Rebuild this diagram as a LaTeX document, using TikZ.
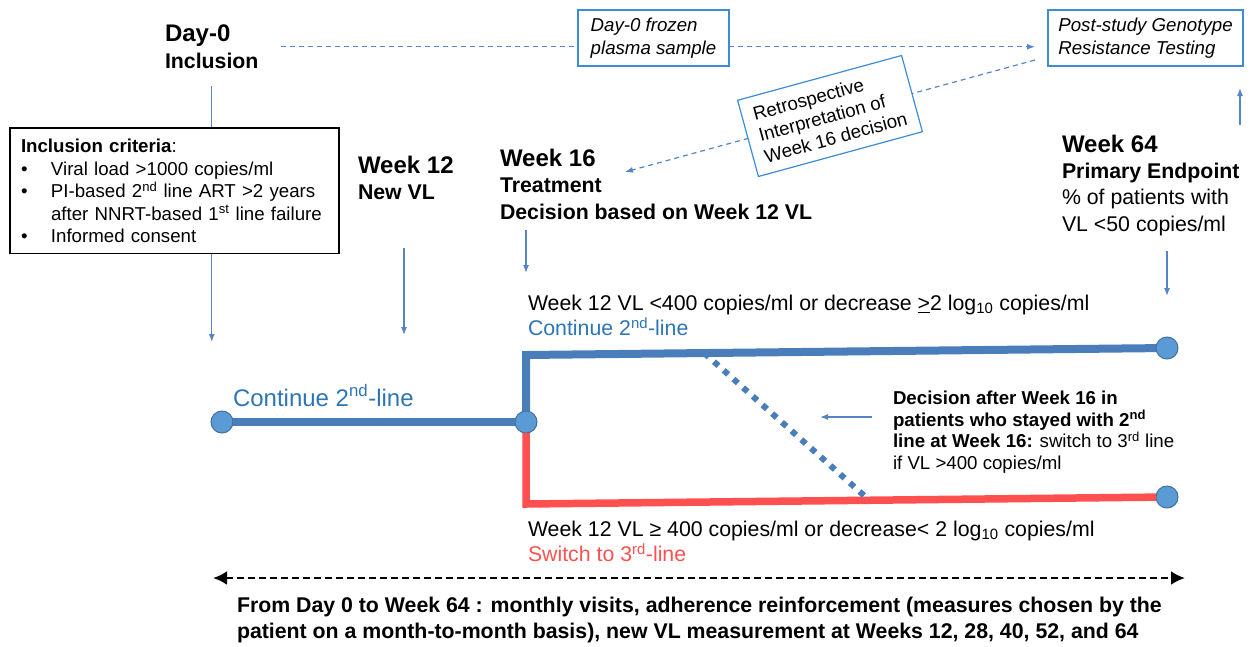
\documentclass[tikz,border=0pt]{standalone}
\usepackage{fontspec}
\setmainfont{Liberation Sans}
\usetikzlibrary{positioning}
\usetikzlibrary{arrows.meta}

\definecolor{trackblue}{HTML}{4A7EBB}
\definecolor{dotfill}{HTML}{5B9BD5}
\definecolor{dotdraw}{HTML}{41719C}
\definecolor{labelblue}{HTML}{2E75B6}
\definecolor{trackred}{HTML}{FF5050}
\definecolor{linkblue}{HTML}{5585C8}
\definecolor{boxblue}{HTML}{3A8DD6}

\tikzset{
  every node/.append style={inner sep=0pt, outer sep=0pt},
  every text node part/.append style={align=left}
}
\tikzstyle{arrow} = [-{Latex[length=8pt,width=6pt]}, draw=linkblue, line width=1.2pt]
\tikzstyle{link} = [arrow, dash pattern=on 5pt off 4pt]
\tikzstyle{heading} = [anchor=north west, font=\bfseries\fontsize{21.3}{26.5}\selectfont]
\tikzstyle{infobox} = [draw=boxblue, solid, line width=1.2pt, fill=white, font=\fontsize{18.67}{22}\selectfont]
\tikzstyle{track} = [line width=8pt, draw=trackblue]
\tikzstyle{tracktext} = [anchor=north west, font=\fontsize{21.3}{25.5}\selectfont]
\newcommand\visit[2]{
  % #1 - Tikz name
  % #2 - Location
  \node [circle, fill=dotfill, draw=dotdraw, line width=1pt, minimum size=22pt] at (#2) (#1) {};
}

\begin{document}
\begin{tikzpicture}[x=1pt, y=-1pt]
  \useasboundingbox (0,0) rectangle (1255,646);

  % time points
  \node [heading] at (165,25) (day0) {{\fontsize{24}{26.5}\selectfont Day-0}\\Inclusion};
  \node [heading] at (358,156) (week12) {{\fontsize{24}{27}\selectfont Week 12}\\New VL};
  \node [heading] at (500,149) (week16) {{\fontsize{24}{26}\selectfont Week 16}\\Treatment\\Decision based on Week 12 VL};
  \node [heading, font=\bfseries\fontsize{21.3}{26.3}\selectfont] at (1062,135) (week64) {
    {\fontsize{24}{26.3}\selectfont Week 64}\\Primary Endpoint\\
    {\mdseries\fontsize{21.3}{26.3}\selectfont \% of patients with}\\
    {\mdseries\fontsize{21.3}{26.3}\selectfont VL <50 copies/ml}};

  \coordinate (d0tip) at (211,342);
  \coordinate (w12tip) at (404,335);
  \coordinate (w16tip) at (526,273);
  \coordinate (w64tip) at (1167,296);
  \draw[arrow] ([yshift=-18pt]day0.south) -- (day0.south |- d0tip);
  \draw[arrow] (w12tip |- week12.south) ++(0,-48pt) -- (w12tip);
  \draw[arrow] ([yshift=-10pt]week16.south west -| w16tip) -- (w16tip);
  \draw[arrow] ([yshift=-15pt]week64.south -| w64tip) -- (w64tip);

  \node [draw=black, line width=1.2pt, fill=white, anchor=north west, text width=307pt,
    minimum height=124pt, inner sep=11pt, font=\fontsize{18.67}{22.5}\selectfont] at (10,128) (criteria) {
    \textbf{Inclusion criteria}:\\
    \makebox[30pt][l]{\textbullet}Viral load >1000 copies/ml\\
    \makebox[30pt][l]{\textbullet}PI-based 2\textsuperscript{nd} line ART >2 years\\
    \hspace*{30pt}after NNRT-based 1\textsuperscript{st} line failure\\
    \makebox[30pt][l]{\textbullet}Informed consent};

  % resistance testing
  \node [infobox, font=\itshape\fontsize{18.67}{23}\selectfont, minimum width=151pt, minimum height=56pt] at (653.5,38) (frozen) {Day-0 frozen\\plasma sample};
  \node [infobox, font=\itshape\fontsize{18.67}{23}\selectfont, minimum width=195pt, minimum height=56pt] at (1145.5,38) (post) {Post-study Genotype\\Resistance Testing};
  \draw[link, -] ([xshift=23pt]day0.east) -- (day0.east -| frozen.west);
  \draw[link, shorten >=13pt] (day0.east -| frozen.east) -- (day0.east -| post.west);
  \draw[link] ([xshift=-13pt,yshift=6pt]post.south west) -- node[sloped, infobox, minimum width=170pt, minimum height=79pt] (retro) {Retrospective\\Interpretation of\\Week 16 decision} (625,172);
  \coordinate (uptail) at (1240,125);
  \draw[arrow, shorten >=22pt] (uptail) -- (uptail |- post.south);

  % treatment tracks
  \visit{start}{222,422}
  \visit{junction}{526,422}
  \visit{endcont}{1167,348}
  \visit{endswitch}{1167,497}
  \coordinate (contcorner) at (526,355);
  \coordinate (switchcorner) at (526,504);
  \draw[track] (start) -- (junction);
  \draw[track] (junction) -- (contcorner) -- coordinate[pos=0.283] (dotfrom) (endcont);
  \draw[track, line width=7.5pt, draw=trackred] (junction) -- (switchcorner) -- coordinate[pos=0.545] (dotto) (endswitch);
  \draw[track, line width=6pt, dash pattern=on 6pt off 7pt] (dotfrom) -- (dotto);

  \node [anchor=base west, font=\fontsize{24}{28}\selectfont, text=labelblue] at (233,406) (contlabel) {Continue 2\textsuperscript{nd}-line};
  \node [tracktext] at (528,295) (contcrit) {Week 12 VL <400 copies/ml or decrease \underline{>}2 log\textsubscript{10} copies/ml\\\textcolor{labelblue}{Continue 2\textsuperscript{nd}-line}};
  \node [tracktext] at (528,521) (switchcrit) {Week 12 VL ≥ 400 copies/ml or decrease< 2 log\textsubscript{10} copies/ml\\\textcolor{trackred}{Switch to 3\textsuperscript{rd}-line}};

  \node [anchor=north west, font=\fontsize{18.67}{21.5}\selectfont] at (893,391) (decision) {
    \textbf{Decision after Week 16 in}\\
    \textbf{patients who stayed with 2\textsuperscript{nd}}\\
    \textbf{line at Week 16:} switch to 3\textsuperscript{rd} line\\
    if VL >400 copies/ml};
  \coordinate (dottip) at (820,417);
  \draw[arrow] (dottip -| decision.west) ++(-21pt,0) -- (dottip);

  % follow-up
  \coordinate (spanfrom) at (213,578);
  \coordinate (spanto) at (1185,578);
  \draw[{Latex[length=14pt,width=14pt]}-{Latex[length=14pt,width=14pt]}, line width=2.6pt, dash pattern=on 7pt off 4pt] (spanfrom) -- (spanto);
  \node [anchor=north west, font=\bfseries\fontsize{21.3}{26}\selectfont] at (237,597) (visits) {From Day 0 to Week 64 : monthly visits, adherence reinforcement (measures chosen by the\\patient on a month-to-month basis), new VL measurement at Weeks 12, 28, 40, 52, and 64};
\end{tikzpicture}
\end{document}
